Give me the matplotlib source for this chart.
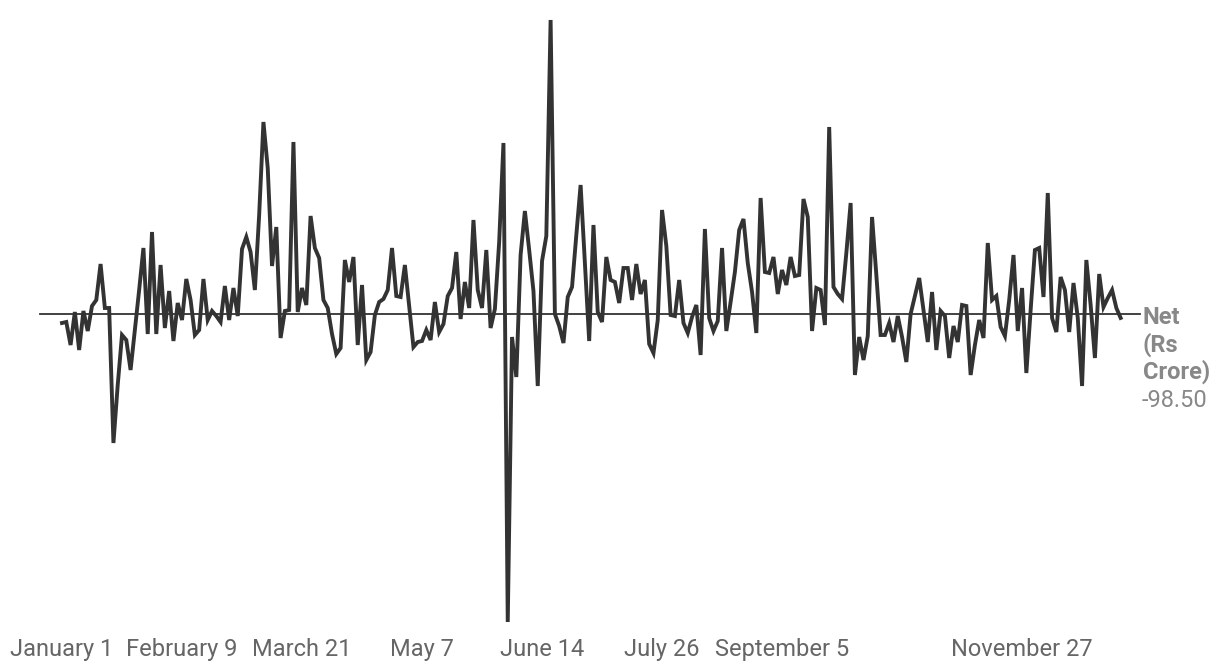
import numpy as np
import matplotlib
matplotlib.use("Agg")
import matplotlib.pyplot as plt

# daily net flows (Rs crore), one value per trading day
net_flow = [
    -225, -200, -775, 50, -900, 75, -425, 200, 350, 1250,
    150, 150, -3225, -1775, -525, -650, -1400, -400, 600, 1650,
    -500, 2050, -500, 1225, -350, 575, -675, 275, -150, 875,
    350, -525, -400, 875, -150, 75, -50, -200, 700, -150,
    650, -50, 1625, 1925, 1550, 600, 2475, 4800, 3650, 1200,
    2175, -600, 75, 100, 4300, 50, 650, 225, 2450, 1650,
    1400, 350, 150, -500, -1000, -850, 1350, 800, 1425, -775,
    725, -1150, -950, -25, 300, 375, 600, 1650, 450, 425,
    1225, 200, -825, -700, -675, -400, -650, 300, -450, -250,
    450, 650, 1550, -125, 800, 150, 2350, 600, 150, 1600,
    -350, 125, 1800, 4275, -7700, -575, -1575, 1475, 2575, 1600,
    575, -1800, 1325, 1950, 7350, 0, -300, -725, 425, 675,
    1975, 3225, 1275, -675, 2225, 50, -200, 1425, 850, 800,
    275, 1150, 1150, 350, 1250, 500, 850, -750, -975, -150,
    2600, 1700, -25, -50, 850, -225, -475, -75, 225, -1025,
    2125, -100, -425, -175, 1650, -425, 300, 1050, 2100, 2375,
    1275, 550, -475, 2900, 1050, 1025, 1425, 500, 1100, 725,
    1425, 950, 975, 2875, 2425, -425, 650, 600, -275, 4675,
    675, 500, 375, 1525, 2775, -1525, -575, -1150, -550, 2425,
    975, -525, -525, -225, -700, -50, -575, -1200, 0, 450,
    900, 100, -700, 550, -900, 75, -50, -1100, -300, -700,
    225, 200, -1525, -775, -150, -600, 1775, 350, 450, -325,
    -550, 350, 1475, -425, 650, -1475, 100, 1600, 1650, 425,
    3025, -100, -450, 925, 600, -450, 775, -100, -1800, 1350,
    225, -1100, 1000, 175, 400, 600, 150, -98.5,
]

tick_idx = [0, 28, 56, 84, 112, 140, 168, 224]
tick_labels = ["January 1", "February 9", "March 21", "May 7",
               "June 14", "July 26", "September 5", "November 27"]

plt.rcParams['font.family'] = ['Roboto', 'DejaVu Sans']

fig = plt.figure(figsize=(12.2, 6.72), dpi=100)
ax = fig.add_axes([0, 42 / 672, 1, 630 / 672])

x = np.arange(len(net_flow))
ax.plot(x, net_flow, color='#333333', lw=2.8, solid_joinstyle='miter')
ax.plot([-5.1, 251.5], [0, 0], color='#333333', lw=1.3, zorder=1)

ax.set_xlim(-62 / 4.286, (1220 - 62) / 4.286)
ax.set_ylim(-7900, 7850)

for s in ax.spines.values():
    s.set_visible(False)
ax.set_yticks([])
ax.set_xticks(tick_idx)
ax.set_xticklabels(tick_labels, fontsize=17, color='#666666')
ax.tick_params(axis='x', length=0, pad=6)

last = net_flow[-1]
ax.annotate("Net\n(Rs\nCrore)", xy=(x[-1], last), xytext=(16, 8.5),
            textcoords='offset points', ha='left', va='top',
            fontsize=17, fontweight='bold', color='#888888', linespacing=1.16)
ax.annotate(f"{last:.2f}", xy=(x[-1], last), xytext=(15, -51.5),
            textcoords='offset points', ha='left', va='top',
            fontsize=17, color='#888888')

fig.savefig("out.png", dpi=100)
